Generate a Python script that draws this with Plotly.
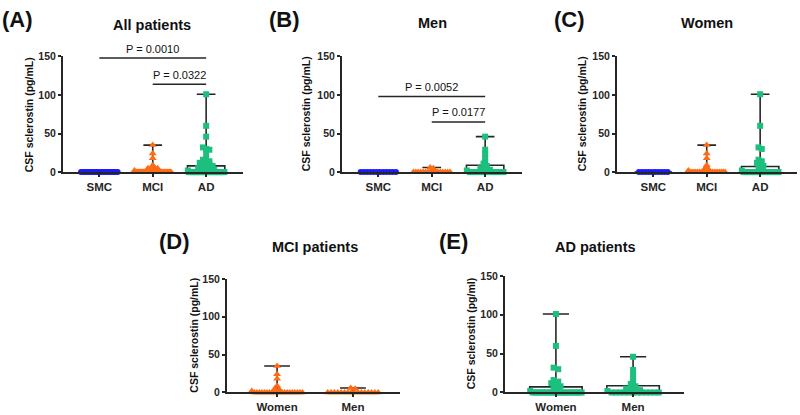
import numpy as np
import plotly.graph_objects as go

W, H = 800, 415

# ---------------- data (pg/mL) ----------------
smc_women = [0] * 10
smc_men = [0] * 12
mci_women = [35, 24, 18, 9, 5, 4, 2] + [0] * 20
mci_men = [6, 5] + [0] * 16
ad_women = [101, 60, 32, 30, 16, 14, 12, 10, 8, 5, 3, 2] + [0] * 22
ad_men = [46, 29, 24, 18, 14, 11, 8, 5, 4, 3, 3, 2] + [0] * 12

groups_3 = ["SMC", "MCI", "AD"]
groups_sex = ["Women", "Men"]

panel_all = [smc_women + smc_men, mci_women + mci_men, ad_women + ad_men]
panel_men = [smc_men, mci_men, ad_men]
panel_women = [smc_women, mci_women, ad_women]
panel_mci = [mci_women, mci_men]
panel_ad = [ad_women, ad_men]

yticks = [0, 50, 100, 150]

# p-value brackets: (from index, to index, line level, text level, label)
brackets_all = [(0, 2, 148, 160, "P = 0.0010"), (1, 2, 114, 126, "P = 0.0322")]
brackets_men = [(0, 2, 98, 111, "P = 0.0052"), (1, 2, 65, 78, "P = 0.0177")]

BLUE = "#1a1aff"
ORANGE = "#ff6a13"
GREEN = "#1dbf7f"
INK = "#262626"

styles_3 = [(BLUE, "circle", 6), (ORANGE, "triangle-up", 7), (GREEN, "square", 6)]
styles_mci = [(ORANGE, "triangle-up", 7)] * 2
styles_ad = [(GREEN, "square", 6)] * 2


def px_x(p):
    return p / W


def px_y(p):
    return 1 - p / H


def swarm(values, width, step=0.06, binsize=5.0):
    """Deterministic beeswarm offsets: points in the same value bin are spread side by side."""
    vals = np.asarray(values, dtype=float)
    offs = np.zeros(len(vals))
    bins = np.round(vals / binsize).astype(int)
    for b in np.unique(bins):
        idx = np.where(bins == b)[0]
        n = len(idx)
        if n == 1:
            continue
        s = min(step, width / (n - 1))
        offs[idx] = (np.arange(n) - (n - 1) / 2) * s
    return offs


fig = go.Figure()

panels = [
    dict(d=panel_all, cats=groups_3, st=styles_3, xp=(63, 243), yp=(52, 171), xr=[-0.68, 2.69],
         title="All patients", tpos=(152, 20), letter="(A)", lpos=(0, 14),
         ytitle="CSF sclerostin (pg/mL)", ytx=29, bw=0.7, br=brackets_all),
    dict(d=panel_men, cats=groups_3, st=styles_3, xp=(342, 522), yp=(52, 171), xr=[-0.68, 2.69],
         title="Men", tpos=(432, 18), letter="(B)", lpos=(267, 14),
         ytitle="CSF sclerostin (pg/mL)", ytx=306, bw=0.7, br=brackets_men),
    dict(d=panel_women, cats=groups_3, st=styles_3, xp=(617, 797), yp=(52, 171), xr=[-0.68, 2.69],
         title="Women", tpos=(707, 18), letter="(C)", lpos=(552, 14),
         ytitle="CSF sclerostin (pg/mL)", ytx=582, bw=0.7, br=[]),
    dict(d=panel_mci, cats=groups_sex, st=styles_mci, xp=(227, 400), yp=(281, 398), xr=[-0.66, 1.62],
         title="MCI patients", tpos=(315, 248), letter="(D)", lpos=(157, 243),
         ytitle="CSF sclerostin (pg/mL)", ytx=194, bw=0.68, br=[]),
    dict(d=panel_ad, cats=groups_sex, st=styles_ad, xp=(505, 684), yp=(278, 398), xr=[-0.66, 1.66],
         title="AD patients", tpos=(595, 248), letter="(E)", lpos=(437, 243),
         ytitle="CSF sclerostin (pg/ml)", ytx=471, bw=0.68, br=[]),
]

annotations = []
shapes = []
layout_axes = {}

for k, p in enumerate(panels, start=1):
    xa = "x" if k == 1 else f"x{k}"
    ya = "y" if k == 1 else f"y{k}"
    for i, (vals, (col, sym, size)) in enumerate(zip(p["d"], p["st"])):
        arr = np.asarray(vals, dtype=float)
        q1, med, q3 = np.percentile(arr, [25, 50, 75])
        fig.add_trace(go.Box(
            x=[i], q1=[q1], median=[med], q3=[q3],
            lowerfence=[arr.min()], upperfence=[arr.max()],
            width=p["bw"], whiskerwidth=0.5, boxpoints=False,
            line=dict(color=INK, width=1.6), fillcolor="rgba(0,0,0,0)",
            xaxis=xa, yaxis=ya, showlegend=False, hoverinfo="skip"))
        offs = swarm(arr, p["bw"] * 0.98)
        fig.add_trace(go.Scatter(
            x=i + offs, y=arr, mode="markers", cliponaxis=False,
            marker=dict(color=col, symbol=sym, size=size, line=dict(width=0)),
            xaxis=xa, yaxis=ya, showlegend=False, hoverinfo="skip"))

    axkey_x = "xaxis" if k == 1 else f"xaxis{k}"
    axkey_y = "yaxis" if k == 1 else f"yaxis{k}"
    layout_axes[axkey_x] = dict(
        domain=[px_x(p["xp"][0]), px_x(p["xp"][1])], anchor=ya, range=p["xr"],
        tickvals=list(range(len(p["cats"]))), ticktext=p["cats"],
        showline=True, linecolor=INK, linewidth=2, ticks="outside", ticklen=3,
        tickwidth=1.5, tickcolor=INK, showgrid=False, zeroline=False,
        tickfont=dict(family="Arial", size=11.5, color=INK, weight="bold"), fixedrange=True)
    layout_axes[axkey_y] = dict(
        domain=[px_y(p["yp"][1]), px_y(p["yp"][0])], anchor=xa, range=[0, 150],
        tickvals=yticks, showline=True, linecolor=INK, linewidth=2, ticks="outside",
        ticklen=3, tickwidth=1.5, tickcolor=INK, showgrid=False, zeroline=False,
        tickfont=dict(family="Arial", size=10.5, color=INK, weight="bold"), fixedrange=True)

    y_top, y_bot = p["yp"]

    def lvl_to_paper(v, y_top=y_top, y_bot=y_bot):
        return px_y(y_bot - v / 150 * (y_bot - y_top))

    annotations.append(dict(text=p["title"], x=px_x(p["tpos"][0]), y=px_y(p["tpos"][1]),
                            xref="paper", yref="paper", showarrow=False, xanchor="center", yanchor="middle",
                            font=dict(family="Arial", size=14.5, color="#111", weight="bold")))
    annotations.append(dict(text=p["letter"], x=px_x(p["lpos"][0]), y=px_y(p["lpos"][1]),
                            xref="paper", yref="paper", showarrow=False, xanchor="left", yanchor="middle",
                            font=dict(family="Arial", size=22, color="#111", weight="bold")))
    annotations.append(dict(text=p["ytitle"], x=px_x(p["ytx"]),
                            y=px_y((y_top + y_bot) / 2),
                            xref="paper", yref="paper", showarrow=False, textangle=-90,
                            xanchor="center", yanchor="middle",
                            font=dict(family="Arial", size=10.5, color="#111", weight="bold")))
    for (a, b, lvl, tl, lab) in p["br"]:
        shapes.append(dict(type="line", xref=xa, yref=ya, x0=a, x1=b, y0=lvl, y1=lvl,
                           line=dict(color=INK, width=1.6)))
        annotations.append(dict(text=lab, x=(a + b) / 2, y=lvl_to_paper(tl), xref=xa, yref="paper",
                                showarrow=False, xanchor="center", yanchor="middle",
                                font=dict(family="Arial", size=11, color="#111")))

fig.update_layout(
    width=W, height=H, margin=dict(l=0, r=0, t=0, b=0),
    paper_bgcolor="white", plot_bgcolor="white", showlegend=False,
    annotations=annotations, shapes=shapes, boxmode="overlay", **layout_axes)

fig.write_html("out.html")
